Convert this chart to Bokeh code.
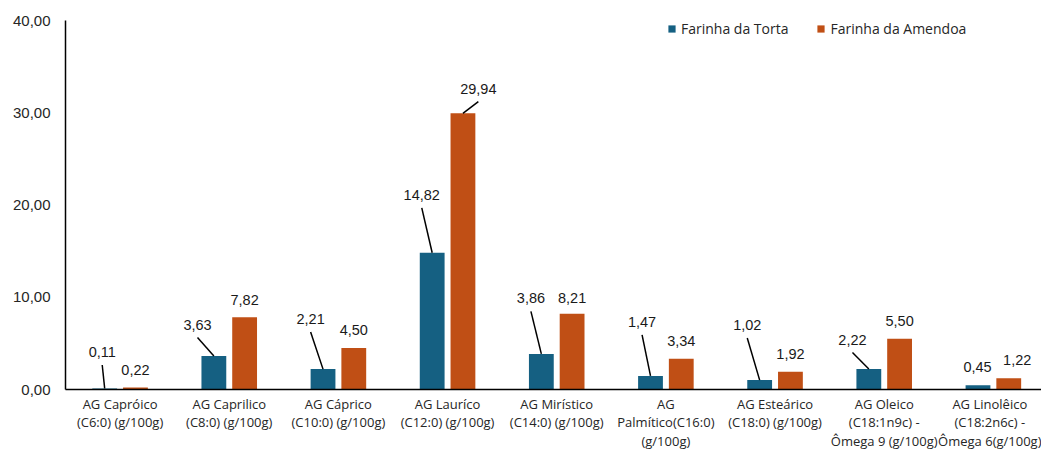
from bokeh.plotting import figure
from bokeh.models import (Range1d, FixedTicker, ColumnDataSource, Legend,
                          LegendItem)
from bokeh.embed import file_html
from bokeh.resources import INLINE
from bokeh.core.properties import value

# ---------------- data ----------------
categories = [
    "AG Capróico\n(C6:0) (g/100g)",
    "AG Caprilico\n(C8:0) (g/100g)",
    "AG Cáprico\n(C10:0) (g/100g)",
    "AG Lauríco\n(C12:0) (g/100g)",
    "AG Mirístico\n(C14:0) (g/100g)",
    "AG\nPalmítico(C16:0)\n(g/100g)",
    "AG Esteárico\n(C18:0) (g/100g)",
    "AG Oleico\n(C18:1n9c) -\nÔmega 9 (g/100g)",
    "AG Linolêico\n(C18:2n6c) -\nÔmega 6(g/100g)",
]
torta = [0.11, 3.63, 2.21, 14.82, 3.86, 1.47, 1.02, 2.22, 0.45]
amendoa = [0.22, 7.82, 4.50, 29.94, 8.21, 3.34, 1.92, 5.50, 1.22]
series_names = ["Farinha da Torta", "Farinha da Amendoa"]
y_ticks = [0, 10, 20, 30, 40]

# ---------------- layout / style ----------------
W, H = 1041, 453
SX, SY = W / 1049, H / 461          # reference-pixel -> canvas-pixel
B_LEFT, B_TOP, B_BOTTOM = 65, 20, 62
FRAME_W = W - B_LEFT
FRAME_H = H - B_TOP - B_BOTTOM
CAT_PX = 110.0 * SX
BAR_PX = 25.0 * SX
SHIFT_PX = 15.5 * SX
Y_MAX = 40
PPU = FRAME_H / Y_MAX

C_TORTA = "#156082"
C_AMEND = "#C04F15"

# label offsets (reference px, relative to top-centre of the bar; negative dy = up)
torta_dx = [-2.5, -16.5, -12.5, -10.5, -10.5, -8.5, -12.5, -16.5, -0.5]
torta_dy = [-37, -32, -51, -59, -56.5, -55, -56, -30, -19]
torta_leader = [True, True, True, True, True, True, True, True, False]
amend_dx = [0, 0, 0, 15.5, 0, 0, 0, 0, 8.5]
amend_dy = [-18, -18, -18.5, -25, -16, -17.5, -18, -18, -18.5]
amend_leader = [False, False, False, True, False, False, False, False, False]
LEAD_GAP = 13


def fmt(v):
    return f"{v:.2f}".replace(".", ",")


n = len(categories)
centers = [i + 0.5 for i in range(n)]
shift = SHIFT_PX / CAT_PX
bar_w = BAR_PX / CAT_PX

p = figure(width=W, height=H, output_backend="svg", toolbar_location=None,
           title=None,
           x_range=Range1d(0, FRAME_W / CAT_PX), y_range=Range1d(0, Y_MAX),
           min_border_left=B_LEFT, min_border_right=0,
           min_border_top=B_TOP, min_border_bottom=B_BOTTOM)
p.outline_line_color = None
p.xgrid.grid_line_color = None
p.ygrid.grid_line_color = None
p.background_fill_color = "white"
p.border_fill_color = "white"

src_t = ColumnDataSource(dict(
    x=[c - shift for c in centers], top=torta,
    lab=[fmt(v) for v in torta],
    dx=[d * SX for d in torta_dx], dy=[d * SY for d in torta_dy]))
src_a = ColumnDataSource(dict(
    x=[c + shift for c in centers], top=amendoa,
    lab=[fmt(v) for v in amendoa],
    dx=[d * SX for d in amend_dx], dy=[d * SY for d in amend_dy]))

r_t = p.vbar(x="x", top="top", width=bar_w, bottom=0, source=src_t,
             fill_color=C_TORTA, line_color=None)
r_a = p.vbar(x="x", top="top", width=bar_w, bottom=0, source=src_a,
             fill_color=C_AMEND, line_color=None)

# leader lines
x0, y0, x1, y1 = [], [], [], []
for vals, dxs, dys, lead, sgn in [
        (torta, torta_dx, torta_dy, torta_leader, -1),
        (amendoa, amend_dx, amend_dy, amend_leader, 1)]:
    for i, v in enumerate(vals):
        if not lead[i]:
            continue
        xc = centers[i] + sgn * shift
        x0.append(xc + dxs[i] * SX / CAT_PX)
        y0.append(v - (dys[i] + LEAD_GAP) * SY / PPU)
        x1.append(xc)
        y1.append(v)
p.segment(x0=x0, y0=y0, x1=x1, y1=y1, line_color="black", line_width=1.5)

for src in (src_t, src_a):
    p.text(x="x", y="top", text="lab", x_offset="dx", y_offset="dy",
           source=src, text_align="center", text_baseline="middle",
           text_font=value("Liberation Sans"), text_font_size="14.5px",
           text_color="#1a1a1a")

# axes
p.xaxis.ticker = FixedTicker(ticks=centers)
p.xaxis.major_label_overrides = {c: lab for c, lab in zip(centers, categories)}
p.xaxis.axis_line_color = "black"
p.xaxis.axis_line_width = 1.5
p.xaxis.major_tick_line_color = None
p.xaxis.minor_tick_line_color = None
p.xaxis.major_tick_out = 0
p.xaxis.major_tick_in = 0
p.xaxis.major_label_standoff = 5
p.xaxis.major_label_text_font = "Open Sans"
p.xaxis.major_label_text_font_size = "13px"
p.xaxis.major_label_text_line_height = 1.05
p.xaxis.major_label_text_color = "#262626"

p.yaxis.ticker = FixedTicker(ticks=y_ticks)
p.yaxis.major_label_overrides = {t: fmt(t) for t in y_ticks}
p.yaxis.axis_line_color = "black"
p.yaxis.axis_line_width = 1.5
p.yaxis.major_tick_line_color = None
p.yaxis.minor_tick_line_color = None
p.yaxis.major_tick_out = 0
p.yaxis.major_tick_in = 0
p.yaxis.major_label_standoff = 15
p.yaxis.major_label_text_font = "Liberation Sans"
p.yaxis.major_label_text_font_size = "15px"
p.yaxis.major_label_text_color = "#262626"

legend = Legend(items=[LegendItem(label=series_names[0], renderers=[r_t]),
                       LegendItem(label=series_names[1], renderers=[r_a])],
                orientation="horizontal", location=(602, 351),
                glyph_width=9, glyph_height=9, label_standoff=5,
                spacing=28, padding=0, margin=0, label_height=16,
                label_text_font="Open Sans", label_text_font_size="14px",
                label_text_color="#262626",
                border_line_color=None, background_fill_alpha=0)
p.add_layout(legend)

open("out.html", "w").write(file_html(p, INLINE))
